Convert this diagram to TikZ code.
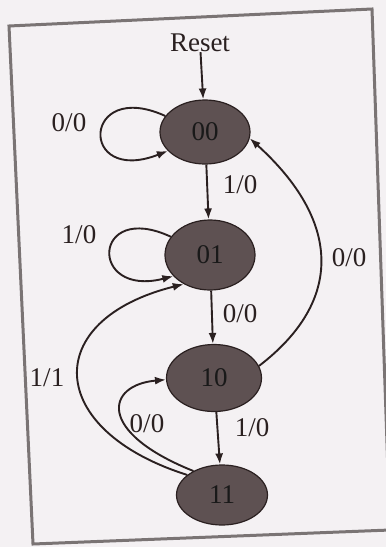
\documentclass[tikz,border=0pt]{standalone}
\usepackage{fontspec}
\setmainfont{Liberation Serif}
\usetikzlibrary{arrows.meta,shapes.geometric}
\definecolor{paper}{HTML}{F4F1F3}
\definecolor{statefill}{HTML}{5E5152}
\definecolor{ink}{HTML}{2A2020}
\definecolor{framec}{HTML}{7A7474}
\tikzset{
  state/.style={ellipse, draw=ink, line width=1.2pt, fill=statefill,
    minimum width=90pt, minimum height=64pt, inner sep=0pt,
    text=black!90, font=\fontsize{27}{29}\selectfont},
  conn/.style={draw=ink, line width=1.9pt,
    -{Latex[length=11pt,width=8pt]}},
  lbl/.style={text=ink, font=\fontsize{27}{30}\selectfont, inner sep=0pt},
}
\begin{document}
\begin{tikzpicture}[x=1pt,y=-1pt]
\useasboundingbox (0,0) rectangle (386,547);
\fill[paper] (0,0) rectangle (386,547);
\clip (0,0) rectangle (386,547);
% frame
\draw[framec, line width=3pt] (9,26) -- (372,9) -- (390,530) -- (33,544) -- cycle;
% states
\node[state] (s00) at (205,132) {00};
\node[state, minimum height=70pt] (s01) at (210,255) {01};
\node[state, minimum width=95pt, minimum height=67pt] (s10) at (214,378) {10};
\node[state, minimum width=91pt, minimum height=60pt] (s11) at (222,495) {11};
% reset
\node[lbl] (reset) at (200,43) {Reset};
\draw[conn] (reset) -- (s00);
% self loops
\draw[conn] (s00.158) .. controls (82,78) and (78,186) .. (s00.207);
\node[lbl] (l1) at (69,123) {0/0};
\draw[conn] (s01.155) .. controls (92,200) and (88,298) .. (s01.210);
\node[lbl] (l3) at (79,235) {1/0};
% straight transitions
\draw[conn] (s00) -- (s01);
\node[lbl] (l2) at (240,185) {1/0};
\draw[conn] (s01) -- (s10);
\node[lbl] (l4) at (240,314) {0/0};
\draw[conn] (s10) -- (s11);
\node[lbl] (l8) at (252,428) {1/0};
% 10 -> 00
\draw[conn] (s10.15) .. controls (345,300) and (340,220) .. (s00.-8);
\node[lbl] (l5) at (349,258) {0/0};
% 11 -> 01
\draw[conn] (s11.150) .. controls (45,430) and (40,320) .. (s01.228);
\node[lbl] (l6) at (47,378) {1/1};
% 11 -> 10
\draw[conn] (s11.140) .. controls (96,432) and (106,385) .. (s10.182);
\node[lbl] (l7) at (147,424) {0/0};
\end{tikzpicture}
\end{document}
